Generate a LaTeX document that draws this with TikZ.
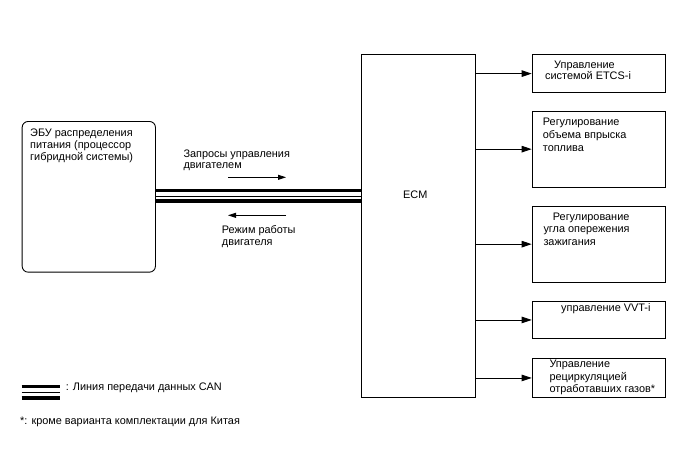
\documentclass[tikz,border=0pt]{standalone}
\usepackage{fontspec}
\setmainfont{Liberation Sans}
\usetikzlibrary{arrows.meta}
\begin{document}
\begin{tikzpicture}[x=1pt,y=-1pt,
  box/.style={draw, line width=0.9pt, inner sep=0pt, anchor=north west},
  txt/.style={inner sep=0pt, anchor=base west, align=left, font=\fontsize{10.9}{11.7}\selectfont},
  arr/.style={-{Triangle[length=10pt,width=6.5pt]}, line width=0.9pt},
  sarr/.style={-{Triangle[length=8pt,width=5pt]}, line width=0.9pt},
  canthick/.style={line width=3.2pt},
  canthin/.style={line width=1pt}]
\useasboundingbox (0,0) rectangle (688,463);

% boxes
\node[box, rounded corners=6pt, minimum width=133.3pt, minimum height=150.7pt] (lb) at (21.7,121) {};
\node[box, minimum width=114pt, minimum height=342.5pt] (ecm) at (361,54) {};
\node[box, minimum width=133.3pt, minimum height=38.3pt] (b1) at (531.7,54) {};
\node[box, minimum width=133.3pt, minimum height=76pt] (b2) at (531.7,110.7) {};
\node[box, minimum width=133.3pt, minimum height=76pt] (b3) at (531.7,205.7) {};
\node[box, minimum width=133.3pt, minimum height=37.6pt] (b4) at (531.7,300.7) {};
\node[box, minimum width=133.3pt, minimum height=38.4pt] (b5) at (531.7,358.3) {};

% texts (anchor = baseline of last line)
\node[txt] (tlb) at (30,160) {ЭБУ распределения\\питания (процессор\\гибридной системы)};
\node[txt] (tecm) at (403,198.3) {ECM};
\node[txt, font=\fontsize{10.9}{11}\selectfont] (treq) at (183.3,168.3) {Запросы управления\\двигателем};
\node[txt] (tmode) at (221.7,245) {Режим работы\\двигателя};
\node[txt, font=\fontsize{10.9}{11}\selectfont] (t1) at (545,79.3) {\hspace{9pt}Управление\\системой ETCS-i};
\node[txt, font=\fontsize{10.9}{13.3}\selectfont] (t2) at (542.7,151.7) {Регулирование\\объема впрыска\\топлива};
\node[txt, font=\fontsize{10.9}{12.5}\selectfont] (t3) at (543.3,245) {\hspace{9.4pt}Регулирование\\угла опережения\\зажигания};
\node[txt] (t4) at (561,311) {управление VVT-i};
\node[txt, font=\fontsize{10.9}{12.7}\selectfont] (t5) at (549.3,392.7) {Управление\\рециркуляцией\\отработавших газов*};
\node[txt] (tleg) at (65.7,390) {: Линия передачи данных CAN};
\node[txt] (tfoot) at (20,424) {*: кроме варианта комплектации для Китая};

% arrows ECM -> boxes
\draw[arr] (ecm.east |- b1.west) -- (b1.west);
\draw[arr] (ecm.east |- b2.west) -- (b2.west);
\draw[arr] (ecm.east |- b3.west) -- (b3.west);
\draw[arr] (ecm.east |- b4.west) -- (b4.west);
\draw[arr] (ecm.east |- b5.west) -- (b5.west);

% CAN lines
\coordinate (c1) at (0,190.7);
\coordinate (c2) at (0,196);
\coordinate (c3) at (0,200.9);
\draw[canthick] (lb.east |- c1) -- (ecm.west |- c1);
\draw[canthin] (lb.east |- c2) -- (ecm.west |- c2);
\draw[canthick] (lb.east |- c3) -- (ecm.west |- c3);

% direction arrows
\coordinate (a1s) at (228,177.3);
\coordinate (a1e) at (286,177.3);
\coordinate (a2s) at (286,215.3);
\coordinate (a2e) at (228,215.3);
\draw[sarr] (a1s) -- (a1e);
\draw[sarr] (a2s) -- (a2e);

% legend
\coordinate (l1s) at (21.7,386.7);
\coordinate (l1e) at (60,386.7);
\coordinate (l2s) at (21.7,392.3);
\coordinate (l2e) at (60,392.3);
\coordinate (l3s) at (21.7,397.9);
\coordinate (l3e) at (60,397.9);
\draw[canthick] (l1s) -- (l1e);
\draw[canthin] (l2s) -- (l2e);
\draw[canthick] (l3s) -- (l3e);
\end{tikzpicture}
\end{document}
